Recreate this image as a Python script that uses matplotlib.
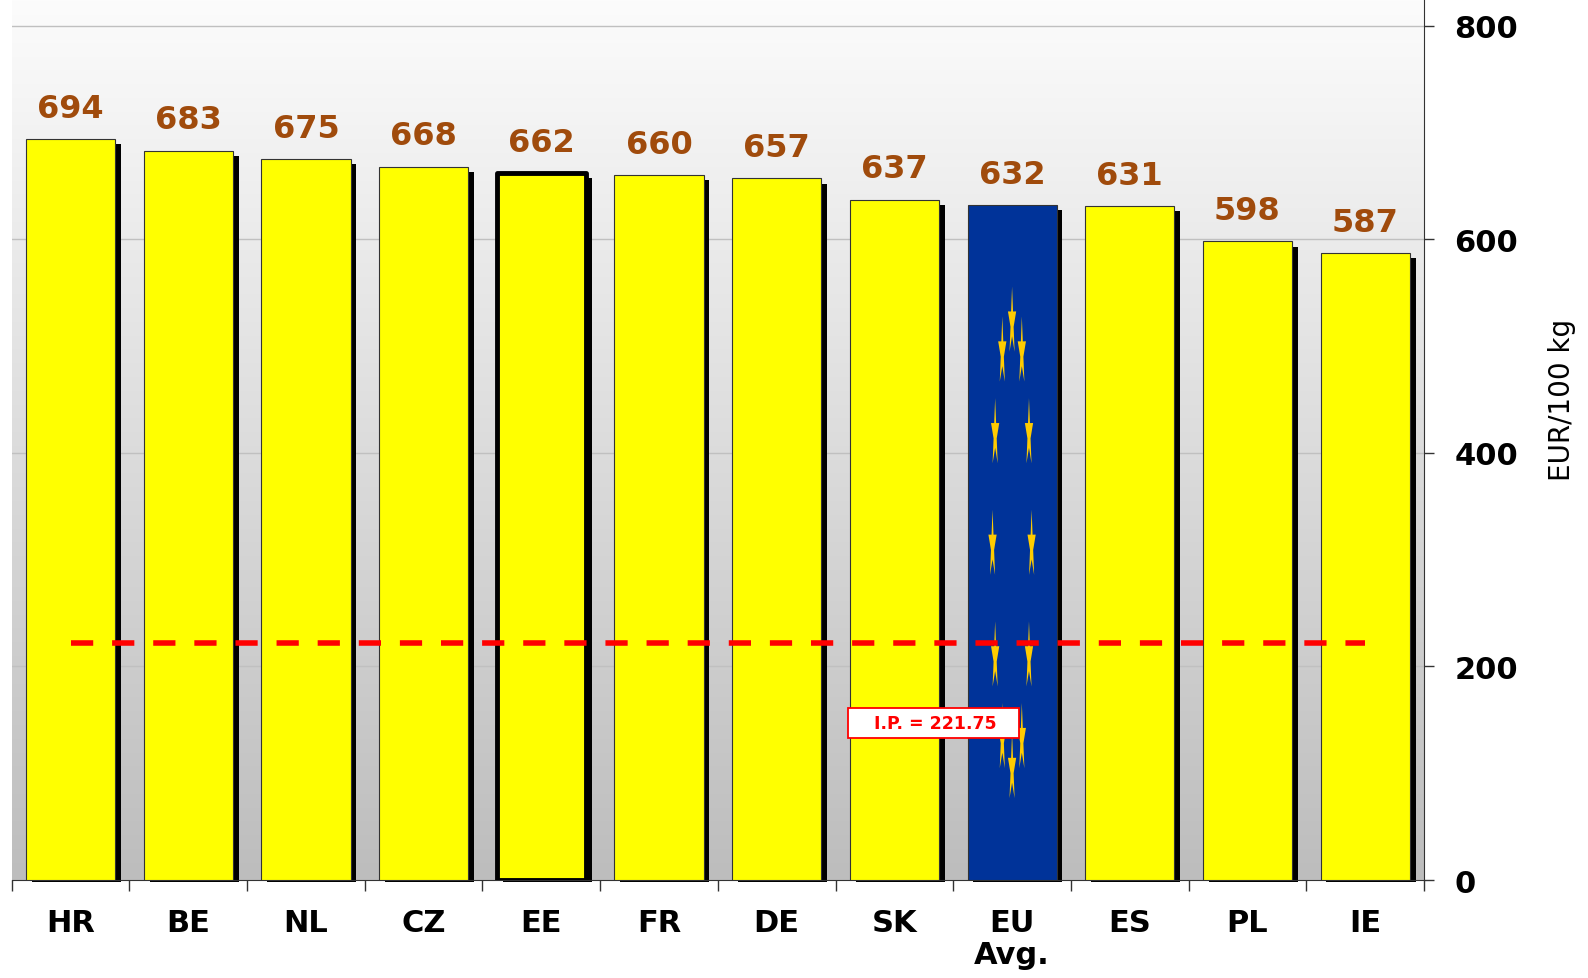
import matplotlib
matplotlib.use("Agg")
import matplotlib.pyplot as plt
import numpy as np
from matplotlib.path import Path
from matplotlib.patches import Rectangle

countries = ['HR', 'BE', 'NL', 'CZ', 'EE', 'FR', 'DE', 'SK', 'EU\nAvg.', 'ES', 'PL', 'IE']
prices = [694, 683, 675, 668, 662, 660, 657, 637, 632, 631, 598, 587]
ip_value = 221.75
highlight = 'EE'
eu_label = 'EU\nAvg.'

plt.rcParams['font.family'] = ['DejaVu Sans']

fig = plt.figure(figsize=(15.88, 9.79), dpi=100)
ax = fig.add_axes([0.0074, 0.1001, 0.8893, 0.8999])

x = np.arange(len(countries))
ax.set_xlim(-0.5, len(countries) - 0.5)
ax.set_ylim(0, 825)

# background gradient, light at the top, grey at the bottom
grad = np.linspace(0, 1, 256).reshape(-1, 1)
cmap = matplotlib.colors.LinearSegmentedColormap.from_list('bg', ['#fcfcfc', '#bdbdbd'])
ax.imshow(grad, cmap=cmap, aspect='auto', origin='upper',
          extent=(-0.5, len(countries) - 0.5, 0, 825), zorder=0)

for yv in [200, 400, 600, 800]:
    ax.axhline(yv, color='#c0c0c0', lw=1, zorder=1)

w = 0.757
# shadows
for xi, v in zip(x, prices):
    ax.bar(xi + 0.05, v - 2.8, width=w, bottom=-2, color='black', zorder=2, clip_on=False)

colors = ['#003399' if c == eu_label else '#ffff00' for c in countries]
bars = ax.bar(x, prices, width=w, color=colors, edgecolor='#333333', linewidth=0.8, zorder=3)
for b, c in zip(bars, countries):
    if c == highlight:
        b.set_linewidth(3.5)
        b.set_edgecolor('black')
        b.set_joinstyle('round')

# value labels
for xi, v in zip(x, prices):
    ax.annotate(str(v), (xi, v), xytext=(0, 11), textcoords='offset points',
                ha='center', va='bottom', fontsize=23, fontweight='bold', color='#a04b0c', zorder=5)

# EU stars (thin, stretched)
star = Path.unit_regular_star(5, 0.38)
verts = star.vertices * np.array([0.12, 1.0])
star_marker = Path(verts, star.codes)
ie = countries.index(eu_label)
ang = np.deg2rad(np.arange(0, 360, 30))
sx = ie + 0.166 * np.sin(ang)
sy = 313 + 209 * np.cos(ang)
ax.scatter(sx, sy, marker=star_marker, s=2700, color='#ffcc00', edgecolors='none', zorder=4)

# intervention price line
ax.plot([x[0], x[-1]], [ip_value, ip_value], color='#ff0000', lw=4,
        dashes=(4, 3.4), zorder=6)
ax.add_patch(Rectangle((6.608, 133), 1.452, 28, fc='white', ec='#ff0000', lw=1.3, zorder=7))
ax.text(7.347, 147, f'I.P. = {ip_value:.2f}', ha='center', va='center', fontsize=12.5,
        fontweight='bold', color='#ff0000', zorder=8)

# axes styling
for s in ['top', 'left']:
    ax.spines[s].set_visible(False)
ax.spines['right'].set_color('#333333')
ax.spines['bottom'].set_color('#333333')
ax.spines['right'].set_zorder(8)

ax.yaxis.tick_right()
ax.set_yticks([0, 200, 400, 600, 800])
ax.tick_params(axis='y', direction='out', length=7, width=1, color='#333333',
               labelsize=22, pad=15)
for t in ax.get_yticklabels():
    t.set_fontweight('bold')

ax.set_xticks(x)
ax.set_xticklabels(countries, fontsize=22, fontweight='bold', linespacing=1.15)
ax.tick_params(axis='x', length=0, pad=20)
ax.set_xticks(np.arange(-0.5, len(countries)), minor=True)
ax.tick_params(axis='x', which='minor', length=8, width=1, color='#333333', direction='out')

ax.yaxis.set_label_position('right')
ax.set_ylabel('EUR/100 kg', fontsize=20, rotation=90)
ax.yaxis.set_label_coords(1.088, 0.546)

fig.savefig('out.png', dpi=100)
